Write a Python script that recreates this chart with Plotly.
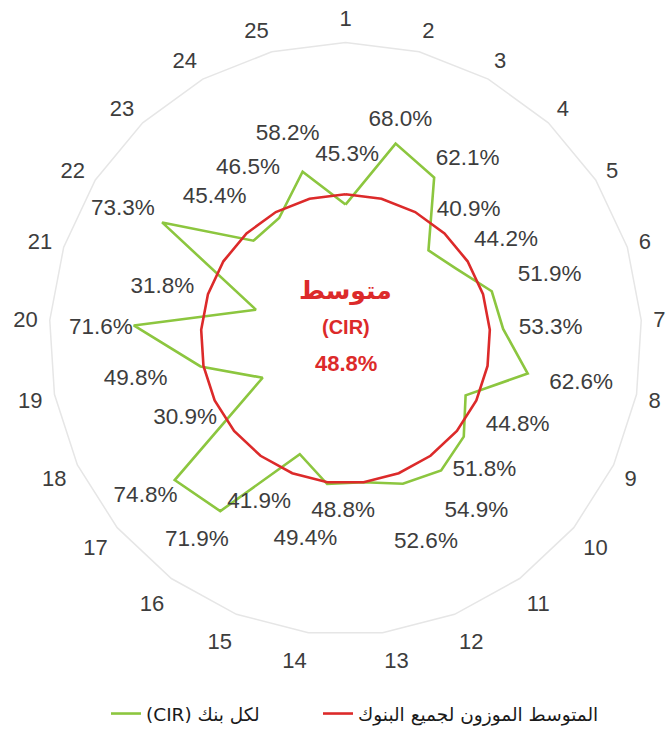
import plotly.graph_objects as go

# Cost-to-income ratio (CIR) per bank, banks numbered 1..25 clockwise from the top
banks = [str(i) for i in range(1, 26)]
cir = [45.3, 68.0, 62.1, 40.9, 44.2, 51.9, 53.3, 62.6, 44.8, 51.8, 54.9, 52.6, 48.8,
       49.4, 41.9, 71.9, 74.8, 30.9, 49.8, 71.6, 31.8, 73.3, 45.4, 46.5, 58.2]
weighted_avg = 48.8

# Value-label placement: radius (in axis %) and angular nudge (deg) from each bank's spoke
label_r = [62.0, 76.0, 73.3, 60.0, 63.6, 72.1, 69.3, 80.9, 65.1, 64.5, 73.2, 73.8, 58.3,
           69.0, 62.3, 84.5, 86.0, 60.5, 72.1, 82.6, 64.2, 86.9, 65.0, 66.4, 71.7]
label_nudge = [0.5, -0.3, 5.4, 0.6, 0.8, 0.8, 0.6, -0.1, 1.6, 3.8, -1.1, 0.0, 8.0,
               4.1, 6.3, 0.4, 1.3, -1.3, -0.1, -1.1, -2.3, -2.2, 0.4, -0.9, -1.4]

GREEN = "#8cc63f"
RED = "#dc2a2a"
TEXT = "#3d3d3d"
W, H = 667, 733

step = 360 / len(banks)
label_theta = [i * step + d for i, d in enumerate(label_nudge)]

# square plotting area for both polar layers
cx, cy, R = 345.5, 343.0, 300.0
dom_x = [(cx - R) / W, (cx + R) / W]
dom_y = [1 - (cy + R) / H, 1 - (cy - R) / H]

fig = go.Figure()

fig.add_trace(go.Scatterpolar(
    r=cir + cir[:1], theta=banks + banks[:1],
    mode="lines", line=dict(color=GREEN, width=2.6),
    name="(CIR) لكل بنك", subplot="polar", hoverinfo="skip",
    legend="legend",
))
fig.add_trace(go.Scatterpolar(
    r=[weighted_avg] * (len(banks) + 1), theta=banks + banks[:1],
    mode="lines", line=dict(color=RED, width=2.6),
    name="المتوسط الموزون لجميع البنوك", subplot="polar", hoverinfo="skip",
    legend="legend2",
))
fig.add_trace(go.Scatterpolar(
    r=label_r, theta=label_theta, mode="text",
    text=[f"{v:.1f}%" for v in cir],
    textfont=dict(family="Liberation Sans, Arial", size=22.5, color=TEXT),
    showlegend=False, subplot="polar2", hoverinfo="skip",
))

legend_style = dict(
    orientation="h", xanchor="left", y=1 - 704 / H, yanchor="top",
    font=dict(family="DejaVu Sans", size=18.5, color="#1a1a1a"),
    bgcolor="rgba(0,0,0,0)",
)

fig.update_layout(
    width=W, height=H,
    margin=dict(l=0, r=0, t=0, b=0),
    paper_bgcolor="white",
    polar=dict(
        domain=dict(x=dom_x, y=dom_y),
        bgcolor="white",
        gridshape="linear",
        radialaxis=dict(range=[0, 100], visible=False),
        angularaxis=dict(
            direction="clockwise", rotation=90, type="category",
            categoryarray=banks,
            showgrid=False,
            ticks="outside", ticklen=7, tickcolor="rgba(0,0,0,0)",
            showline=True, linecolor="#e6e6e6", linewidth=1.5,
            tickfont=dict(family="Liberation Sans, Arial", size=22, color=TEXT),
        ),
    ),
    polar2=dict(
        domain=dict(x=dom_x, y=dom_y),
        bgcolor="rgba(0,0,0,0)",
        radialaxis=dict(range=[0, 100], visible=False),
        angularaxis=dict(direction="clockwise", rotation=90, visible=False),
    ),
    legend=dict(x=106 / W, **legend_style),
    legend2=dict(x=318 / W, **legend_style),
    showlegend=True,
)

# centre caption: weighted average
center_lines = [
    ("<b>متوسط</b>", 295, 25),
    ("<b>(CIR)</b>", 331, 20),
    (f"<b>{weighted_avg:.1f}%</b>", 368, 22),
]
for txt, ypx, size in center_lines:
    fig.add_annotation(
        x=cx / W, y=1 - ypx / H, xref="paper", yref="paper",
        text=txt, showarrow=False, xanchor="center", yanchor="middle",
        font=dict(family="Liberation Sans, DejaVu Sans", size=size, color=RED),
    )

fig.write_html("out.html")
